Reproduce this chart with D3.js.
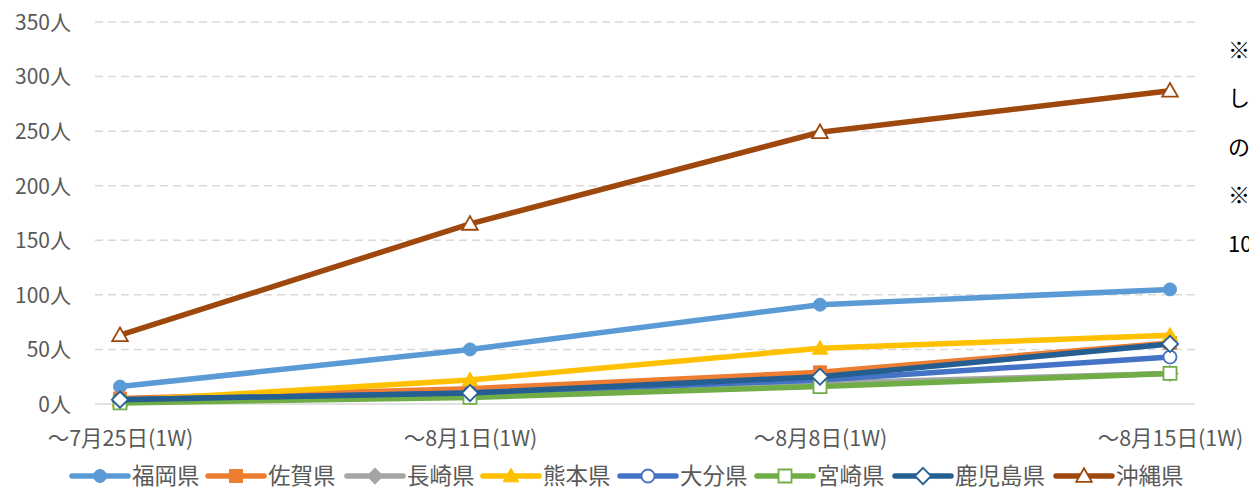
<!DOCTYPE html>
<html><head><meta charset="utf-8">
<script src="https://cdn.jsdelivr.net/npm/d3@7"></script>
<style>
html,body{margin:0;padding:0;background:#fff;overflow:hidden}
svg{display:block}
text{font-family:"Noto Sans CJK JP","Noto Sans",sans-serif;fill:#595959}
</style></head>
<body>
<svg id="c" width="1249" height="490"></svg>
<script>
const categories = ["〜7月25日(1W)","〜8月1日(1W)","〜8月8日(1W)","〜8月15日(1W)"];
const yTicks = [0,50,100,150,200,250,300,350];
const seriesNames = ["福岡県","佐賀県","長崎県","熊本県","大分県","宮崎県","鹿児島県","沖縄県"];
const fukuoka   = [16, 50, 91, 105];
const saga      = [5, 14, 29, 56];
const nagasaki  = [2, 8, 19, 28];
const kumamoto  = [3, 22, 51, 63];
const oita      = [4, 10, 22, 43];
const miyazaki  = [1, 6, 16, 28];
const kagoshima = [4, 10, 25, 55];
const okinawa   = [63, 165, 249, 287];
const notes = ["※各県の直近1週間の新規感染者数を合計","しており、人口10万人当たりに換算","の数値です。","※沖縄県は他県と比べて人口","10万人当たりの感染者数が多い"];

const seriesData = [fukuoka, saga, nagasaki, kumamoto, oita, miyazaki, kagoshima, okinawa];
const colors = ["#5B9BD5","#ED7D31","#A5A5A5","#FFC000","#4472C4","#70AD47","#255E91","#9E480E"];
const markers = [
  {shape:"circle", fill:true}, {shape:"square", fill:true}, {shape:"diamond", fill:true}, {shape:"triangle", fill:true},
  {shape:"circle", fill:false}, {shape:"square", fill:false}, {shape:"diamond", fill:false}, {shape:"triangle", fill:false}
];

const svg = d3.select("#c");
const x = d3.scalePoint().domain(categories).range([120,1170]);
const y = d3.scaleLinear().domain([0,350]).range([404,22]);
const gridX0 = 95, gridX1 = 1195;

// gridlines
svg.append("g").selectAll("line").data(yTicks).join("line")
  .attr("x1",gridX0).attr("x2",gridX1)
  .attr("y1",d=>y(d)).attr("y2",d=>y(d))
  .attr("stroke","#D9D9D9").attr("stroke-width",1.5)
  .attr("stroke-dasharray",d=>d===0?null:"8,5");

// y axis labels
const yAxis = d3.axisLeft(y).tickValues(yTicks).tickSize(0).tickPadding(0).tickFormat(d=>d+"人");
const ga = svg.append("g").attr("transform","translate(71,0)").call(yAxis);
ga.select(".domain").remove();
ga.selectAll("text").style("font-size","21px").style("fill","#595959").attr("dy","0.35em")
  .style("font-family",'"Noto Sans CJK JP",sans-serif');

// x axis labels
const xAxis = d3.axisBottom(x).tickSize(0).tickPadding(0);
const gx = svg.append("g").attr("transform","translate(0,438)").call(xAxis);
gx.select(".domain").remove();
gx.selectAll("text").style("font-size","21.5px").style("fill","#595959").attr("dy","0.35em").attr("y",0)
  .style("font-family",'"Noto Sans CJK JP",sans-serif');

function markerPath(shape, s){
  if(shape==="circle") return d3.symbol(d3.symbolCircle, s*s*Math.PI/4)();
  if(shape==="square") return `M${-s/2},${-s/2}h${s}v${s}h${-s}Z`;
  if(shape==="diamond") return `M0,${-s/1.6}L${s/1.6},0L0,${s/1.6}L${-s/1.6},0Z`;
  if(shape==="triangle") return `M0,${-s*0.6}L${s*0.6},${s*0.45}L${-s*0.6},${s*0.45}Z`;
}

const line = d3.line().x((d,i)=>x(categories[i])).y(d=>y(d));
const gs = svg.append("g");
seriesData.forEach((vals,k)=>{
  const g = gs.append("g");
  g.append("path").datum(vals).attr("d",line).attr("fill","none")
    .attr("stroke",colors[k]).attr("stroke-width",5.5).attr("stroke-linejoin","round").attr("stroke-linecap","round");
  const m = markers[k];
  g.selectAll("path.m").data(vals).join("path").attr("class","m")
    .attr("transform",(d,i)=>`translate(${x(categories[i])},${y(d)})`)
    .attr("d",markerPath(m.shape, 13))
    .attr("fill",m.fill?colors[k]:"#fff")
    .attr("stroke",colors[k]).attr("stroke-width",m.fill?1:1.8);
});

// legend
const lg = svg.append("g").attr("transform","translate(0,476)");
const legX = [72,208,347,483,620,757,895,1056];
seriesNames.forEach((nm,k)=>{
  const g = lg.append("g").attr("transform",`translate(${legX[k]},0)`);
  g.append("line").attr("x1",0).attr("x2",56).attr("y1",0).attr("y2",0)
    .attr("stroke",colors[k]).attr("stroke-width",5.5).attr("stroke-linecap","round");
  const m = markers[k];
  g.append("path").attr("transform","translate(28,0)").attr("d",markerPath(m.shape,13))
    .attr("fill",m.fill?colors[k]:"#fff").attr("stroke",colors[k]).attr("stroke-width",m.fill?1:1.8);
  g.append("text").attr("x",60).attr("y",0).attr("dy","0.35em").style("font-size","22.5px").text(nm);
});

// side notes (clipped by the window edge, as in the reference)
svg.append("g").selectAll("text").data(notes).join("text")
  .attr("x",1228).attr("y",(d,i)=>50+i*48.5).attr("dy","0.35em")
  .style("font-size","22px").style("fill","#000").text(d=>d);
</script>
</body></html>
